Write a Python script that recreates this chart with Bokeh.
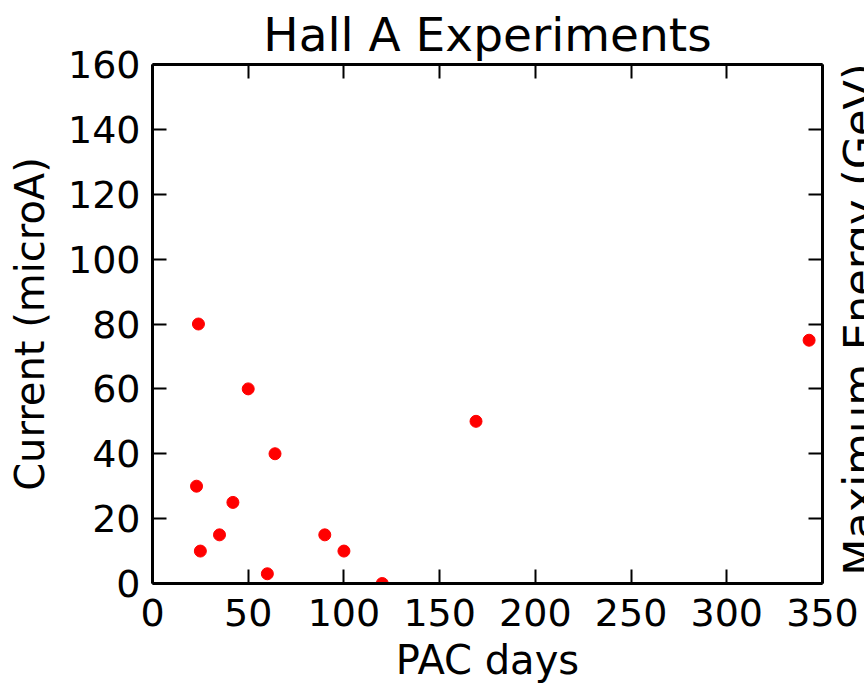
import math
from bokeh.plotting import figure
from bokeh.layouts import row
from bokeh.models import Range1d, LinearAxis, FixedTicker, CustomJSTickFormatter
from bokeh.core.properties import value
from bokeh.embed import file_html
from bokeh.resources import INLINE

# Data
pac_days = [24, 50, 64, 23, 42, 35, 25, 60, 90, 100, 120, 169, 343]
current_microA = [80, 60, 40, 30, 25, 15, 10, 3, 15, 10, 0, 50, 75]
x_ticks = [0, 50, 100, 150, 200, 250, 300, 350]
y_ticks = [0, 20, 40, 60, 80, 100, 120, 140, 160]

title_text = "Hall A Experiments"
x_label = "PAC days"
y_label = "Current (microA)"
y2_label = "Maximum Energy (GeV)"

FONT = "DejaVu Sans"

p = figure(width=864, height=691,
           x_range=Range1d(0, 350), y_range=Range1d(0, 160),
           min_border_left=152, min_border_right=42,
           min_border_top=64, min_border_bottom=108,
           output_backend="svg", toolbar_location=None)
p.xgrid.visible = False
p.ygrid.visible = False
p.outline_line_color = None
p.background_fill_color = "white"
p.border_fill_color = "white"

p.title.text = title_text
p.title.align = "center"
p.title.text_font = FONT
p.title.text_font_size = "47px"
p.title.text_font_style = "normal"
p.title.text_color = "black"
p.title.standoff = 5

def style_axis(ax, ticks, standoff, show_labels=True):
    ax.ticker = FixedTicker(ticks=ticks)
    ax.axis_line_color = "black"
    ax.axis_line_width = 3
    ax.major_tick_in = 14
    ax.major_tick_out = 0
    ax.major_tick_line_width = 2
    ax.major_tick_line_color = "black"
    ax.minor_tick_line_color = None
    ax.major_label_text_font = FONT
    ax.major_label_text_font_size = "38px"
    ax.major_label_text_color = "black"
    ax.major_label_standoff = standoff
    ax.axis_label_text_font = FONT
    ax.axis_label_text_font_style = "normal"
    ax.axis_label_text_font_size = "40px"
    ax.axis_label_text_color = "black"
    if not show_labels:
        ax.formatter = CustomJSTickFormatter(code="return ''")
        ax.major_label_standoff = 0

style_axis(p.xaxis[0], x_ticks, 15)
style_axis(p.yaxis[0], y_ticks, 12)
p.xaxis[0].axis_label = x_label
p.xaxis[0].axis_label_standoff = 8
p.yaxis[0].axis_label = y_label
p.yaxis[0].axis_label_standoff = 12

top_ax = LinearAxis()
style_axis(top_ax, x_ticks, 0, show_labels=False)
p.add_layout(top_ax, "above")
right_ax = LinearAxis()
style_axis(right_ax, y_ticks, 0, show_labels=False)
p.add_layout(right_ax, "right")

p.scatter(pac_days, current_microA, size=12, marker="circle",
          fill_color="#ff0000", line_color="#ff0000")

# Transparent narrow strip laid over the right edge, holding the
# second y-axis title that runs past the picture's edge
p2 = figure(width=40, height=691, x_range=Range1d(0, 40), y_range=Range1d(0, 691),
            min_border_left=0, min_border_right=0, min_border_top=0, min_border_bottom=0,
            x_axis_location=None, y_axis_location=None,
            output_backend="svg", toolbar_location=None,
            margin=(0, 0, 0, -40))
p2.xgrid.visible = False
p2.ygrid.visible = False
p2.outline_line_color = None
p2.border_fill_color = None
p2.background_fill_color = None
p2.text(x=[34.4], y=[351.5], text=[y2_label], angle=math.pi / 2,
        text_font=value(FONT), text_font_size="43px", text_align="center",
        text_baseline="middle", text_color="black")

layout = row(p, p2, spacing=0)
open("out.html", "w").write(file_html(layout, INLINE))
